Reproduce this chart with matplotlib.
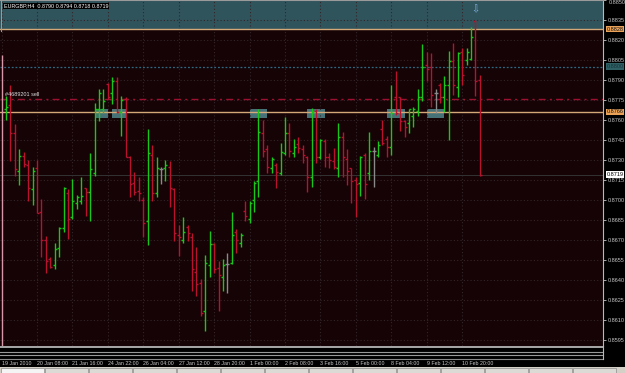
"""EURGBP H4 bar chart, MetaTrader style, with zone / order lines and marker boxes."""
import matplotlib
matplotlib.use("Agg")
import matplotlib.pyplot as plt
import matplotlib.transforms as mtransforms
from matplotlib.lines import Line2D
from matplotlib.patches import Rectangle
import numpy as np

W, H = 625, 373
FONT = "Liberation Sans"

# ── data: H4 bars (bar 1 .. 108) ──────────────────────────────────────────
opens = [0.8768, 0.8771, 0.8750, 0.8722, 0.8733, 0.8726, 0.8708, 0.8724, 0.8691, 0.8670,
         0.8656, 0.8651, 0.8664, 0.8679, 0.8705, 0.8687, 0.8698, 0.8699, 0.8709, 0.8706,
         0.8720, 0.8768, 0.8768, 0.8787, 0.8780, 0.8789, 0.8766, 0.8776, 0.8732, 0.8713,
         0.8707, 0.8700, 0.8684, 0.8734, 0.8705, 0.8723, 0.8724, 0.8725, 0.8708, 0.8674,
         0.8670, 0.8680, 0.8672, 0.8646, 0.8638, 0.8617, 0.8651, 0.8667, 0.8649, 0.8642,
         0.8652, 0.8653, 0.8676, 0.8668, 0.8692, 0.8686, 0.8700, 0.8714, 0.8750, 0.8738,
         0.8724, 0.8726, 0.8720, 0.8735, 0.8750, 0.8735, 0.8742, 0.8738, 0.8732, 0.8717,
         0.8767, 0.8732, 0.8744, 0.8732, 0.8729, 0.8724, 0.8747, 0.8731, 0.8724, 0.8715,
         0.8713, 0.8734, 0.8720, 0.8737, 0.8734, 0.8753, 0.8746, 0.8740, 0.8777, 0.8777,
         0.8759, 0.8758, 0.8763, 0.8767, 0.8777, 0.8801, 0.8800, 0.8780, 0.8786, 0.8777,
         0.8786, 0.8804, 0.8785, 0.8811, 0.8805, 0.8806, 0.8834, 0.8790]
highs = [0.8778, 0.8786, 0.8757, 0.8738, 0.8736, 0.8730, 0.8725, 0.8730, 0.8701, 0.8673,
         0.8657, 0.8668, 0.8680, 0.8710, 0.8708, 0.8716, 0.8704, 0.8717, 0.8709, 0.8735,
         0.8773, 0.8783, 0.8783, 0.8788, 0.8792, 0.8792, 0.8778, 0.8777, 0.8733, 0.8721,
         0.8717, 0.8702, 0.8753, 0.8741, 0.8732, 0.8725, 0.8730, 0.8729, 0.8709, 0.8681,
         0.8687, 0.8681, 0.8675, 0.8665, 0.8641, 0.8659, 0.8677, 0.8668, 0.8654, 0.8656,
         0.8660, 0.8691, 0.8678, 0.8675, 0.8699, 0.8699, 0.8714, 0.8768, 0.8760, 0.8741,
         0.8732, 0.8728, 0.8743, 0.8762, 0.8758, 0.8746, 0.8747, 0.8741, 0.8733, 0.8769,
         0.8768, 0.8746, 0.8746, 0.8735, 0.8739, 0.8758, 0.8751, 0.8738, 0.8724, 0.8717,
         0.8733, 0.8735, 0.8751, 0.8740, 0.8744, 0.8760, 0.8748, 0.8786, 0.8797, 0.8777,
         0.8760, 0.8768, 0.8770, 0.8783, 0.8817, 0.8811, 0.8810, 0.8783, 0.8788, 0.8793,
         0.8812, 0.8818, 0.8811, 0.8814, 0.8814, 0.8830, 0.8835, 0.8794]
lows = [0.8760, 0.8729, 0.8718, 0.8711, 0.8725, 0.8699, 0.8696, 0.8690, 0.8657, 0.8645,
        0.8649, 0.8648, 0.8657, 0.8676, 0.8671, 0.8686, 0.8693, 0.8697, 0.8688, 0.8684,
        0.8718, 0.8759, 0.8765, 0.8776, 0.8772, 0.8765, 0.8748, 0.8732, 0.8702, 0.8704,
        0.8699, 0.8672, 0.8666, 0.8699, 0.8702, 0.8712, 0.8714, 0.8695, 0.8669, 0.8658,
        0.8668, 0.8669, 0.8632, 0.8628, 0.8613, 0.8602, 0.8642, 0.8645, 0.8617, 0.8632,
        0.8630, 0.8652, 0.8660, 0.8665, 0.8684, 0.8683, 0.8691, 0.8702, 0.8732, 0.8720,
        0.8720, 0.8709, 0.8719, 0.8734, 0.8732, 0.8732, 0.8735, 0.8728, 0.8706, 0.8710,
        0.8728, 0.8731, 0.8725, 0.8724, 0.8723, 0.8717, 0.8717, 0.8711, 0.8698, 0.8687,
        0.8703, 0.8701, 0.8715, 0.8710, 0.8732, 0.8741, 0.8732, 0.8734, 0.8764, 0.8752,
        0.8747, 0.8750, 0.8755, 0.8763, 0.8774, 0.8789, 0.8770, 0.8765, 0.8773, 0.8766,
        0.8745, 0.8779, 0.8777, 0.8786, 0.8801, 0.8805, 0.8778, 0.8718]
closes = [0.8770, 0.8750, 0.8723, 0.8733, 0.8727, 0.8709, 0.8722, 0.8690, 0.8670, 0.8654,
          0.8650, 0.8663, 0.8679, 0.8709, 0.8686, 0.8699, 0.8702, 0.8703, 0.8706, 0.8723,
          0.8768, 0.8780, 0.8774, 0.8777, 0.8789, 0.8766, 0.8775, 0.8732, 0.8712, 0.8706,
          0.8705, 0.8683, 0.8735, 0.8705, 0.8724, 0.8723, 0.8726, 0.8709, 0.8675, 0.8672,
          0.8676, 0.8675, 0.8648, 0.8637, 0.8615, 0.8653, 0.8667, 0.8648, 0.8644, 0.8651,
          0.8652, 0.8674, 0.8670, 0.8674, 0.8688, 0.8698, 0.8713, 0.8751, 0.8737, 0.8725,
          0.8731, 0.8721, 0.8736, 0.8750, 0.8737, 0.8740, 0.8739, 0.8734, 0.8717, 0.8766,
          0.8732, 0.8745, 0.8732, 0.8730, 0.8725, 0.8747, 0.8732, 0.8722, 0.8714, 0.8712,
          0.8732, 0.8712, 0.8737, 0.8737, 0.8741, 0.8743, 0.8740, 0.8765, 0.8765, 0.8759,
          0.8755, 0.8768, 0.8768, 0.8777, 0.8800, 0.8798, 0.8779, 0.8780, 0.8777, 0.8786,
          0.8804, 0.8786, 0.8810, 0.8794, 0.8811, 0.8822, 0.8789, 0.8719]
bar_idx = np.arange(1, len(opens) + 1)

time_ticks = list(range(0, 105, 8))
time_labels = ["19 Jan 2010", "20 Jan 08:00", "21 Jan 16:00", "24 Jan 22:00",
               "26 Jan 04:00", "27 Jan 12:00", "28 Jan 20:00", "1 Feb 00:00",
               "2 Feb 08:00", "3 Feb 16:00", "5 Feb 00:00", "8 Feb 04:00",
               "9 Feb 12:00", "10 Feb 20:00"]
price_ticks = np.round(np.arange(0.8595, 0.88501, 0.0015), 4)

zone_low = 0.8828          # shaded zone above this level
level_blue = 0.8800
order_price = 0.8776
level_low = 0.8766
bid = 0.8719
box_lo, box_hi = 0.87615, 0.87683
boxes = [(21, 24), (25, 28), (56, 60), (69, 73), (87, 91), (96, 100)]
arrow_bar, arrow_price = 107, 0.8843
title = "EURGBP,H4  0.8790 0.8794 0.8718 0.8719"

# ── colours ──
BG = "#150306"
GREEN, RED, GRAY = "#18c818", "#b8122e", "#8a8a8a"
TAN = "#d4a877"
ORANGE = "#eba35a"
TEAL_ZONE = "#30545c"
TEAL_BOX = "#4f878c"
AXIS_TXT = "#c8c8c8"


def fx(px): return px / W
def fy(py): return 1 - py / H


fig = plt.figure(figsize=(W / 100, H / 100), dpi=100, facecolor="black")
ax = fig.add_axes([0, fy(346), fx(603), 346 / H])
ax.set_facecolor(BG)
ax.set_xlim(-0.34, 135.8)
ax.set_ylim(0.8850 - 0.000075 * 346, 0.8850)

# grid + axes (top label 0.8850 is drawn separately so it stays inside)
ax.set_yticks(price_ticks)
ax.set_yticklabels([f"{p:.4f}" if p < 0.8849 else "" for p in price_ticks],
                   fontfamily=FONT)
ax.yaxis.tick_right()
ax.set_xticks(time_ticks)
ax.set_xticklabels(time_labels, ha="left", fontfamily=FONT)
ax.grid(True, color="#33262a", ls=(0, (1, 2)), lw=0.8)
ax.tick_params(axis="y", colors=AXIS_TXT, labelsize=4, length=2, width=0.6, pad=1.5)
ax.tick_params(axis="x", colors=AXIS_TXT, labelsize=3.8, length=0, pad=10.5)
for s in ("left", "top", "bottom"):
    ax.spines[s].set_visible(False)
ax.spines["right"].set_color("#b8b8b8")
ax.spines["right"].set_linewidth(0.8)

tr = mtransforms.blended_transform_factory(ax.transAxes, ax.transData)
ax.text(1.009, price_ticks[-1], f"{price_ticks[-1]:.4f}", transform=tr, fontsize=4,
        color=AXIS_TXT, fontfamily=FONT, va="top", ha="left", clip_on=False)

# zone, levels, boxes
ax.axhspan(zone_low, 0.8870, color=TEAL_ZONE, zorder=0.5, lw=0)
ax.axhline(zone_low, color=TAN, lw=1, zorder=2)
ax.axhline(level_low, color=TAN, lw=1, zorder=2)
ax.axhline(level_blue, color="#2d6b85", ls=(0, (1.5, 1.5)), lw=0.9, zorder=2)
ax.axhline(order_price, color="#9e1030", ls=(0, (5, 3, 1.5, 3)), lw=1, zorder=2)
ax.axhline(bid, color="#333333", lw=0.7, zorder=1.6)
ax.vlines(0, ax.get_ylim()[0], 0.8809, color="#d898a8", lw=1, zorder=2)
for a, b in boxes:
    ax.add_patch(Rectangle((a, box_lo), b - a, box_hi - box_lo,
                           fc=TEAL_BOX, ec="none", alpha=0.85, zorder=1))

# OHLC bars
o, h, l, c = map(np.array, (opens, highs, lows, closes))
cols = np.where(c > o, GREEN, np.where(c < o, RED, GRAY))
ax.vlines(bar_idx, l, h, colors=cols, lw=1.0, zorder=3)
ax.hlines(o, bar_idx - 0.45, bar_idx, colors=cols, lw=1.0, zorder=3)
ax.hlines(c, bar_idx, bar_idx + 0.45, colors=cols, lw=1.0, zorder=3)

ax.text(arrow_bar, arrow_price, "\u21e9", ha="center", va="center", fontsize=7,
        color="#7db2e0", fontfamily="DejaVu Sans", zorder=4)
ax.text(0.8, order_price + 0.0001, "#4689201 sell", fontsize=4, color="#dcdcdc",
        fontfamily=FONT, va="bottom", ha="left", zorder=4)

# price labels with coloured background on the right scale
for price, fc, tc in [(zone_low, ORANGE, "#101010"), (level_blue, "#2e6066", "#173638"),
                      (level_low, ORANGE, "#101010"), (bid, "white", "black")]:
    ax.text(1.006, price, f"{price:.4f}", transform=tr, fontsize=4, color=tc,
            fontfamily=FONT, va="center", ha="left", clip_on=False, zorder=5,
            bbox=dict(boxstyle="square,pad=0.12", fc=fc, ec="none"))

# title box
fig.text(fx(4), fy(6), title, fontsize=3.9, color="white", fontfamily=FONT,
         va="center", ha="left",
         bbox=dict(boxstyle="square,pad=0.15", fc="black", ec="none"))

# sub-window separators, scale line down to them, borders
for py, col, lw in [(346.5, "#a8a8a8", 1.4), (352, "#9a9a9a", 0.8),
                    (354.5, "#9a9a9a", 0.8), (359, "#8a8a8a", 0.8)]:
    fig.add_artist(Line2D([0, fx(603)], [fy(py), fy(py)], color=col, lw=lw))
fig.add_artist(Line2D([fx(603), fx(603)], [fy(346), fy(359)], color="#b8b8b8", lw=0.8))
fig.add_artist(Line2D([0, fx(603)], [fy(0.4), fy(0.4)], color="#9a9a9a", lw=0.8))
fig.add_artist(Line2D([fx(0.5), fx(0.5)], [fy(0), fy(31)], color="#9a9a9a", lw=0.8))

# tab strip at the bottom
fig.add_artist(Rectangle((0, 0), 1, fy(367), transform=fig.transFigure,
                         fc="#d4d0c8", ec="none"))
for k in range(14):
    fig.add_artist(Rectangle((fx(1 + k * 44), 0), fx(43), fy(368),
                             transform=fig.transFigure,
                             fc="#f4f4f4" if k == 0 else "#dcdad4",
                             ec="#8c8c8c", lw=0.5))

fig.savefig("out.png", dpi=100, facecolor="black")
plt.close(fig)
